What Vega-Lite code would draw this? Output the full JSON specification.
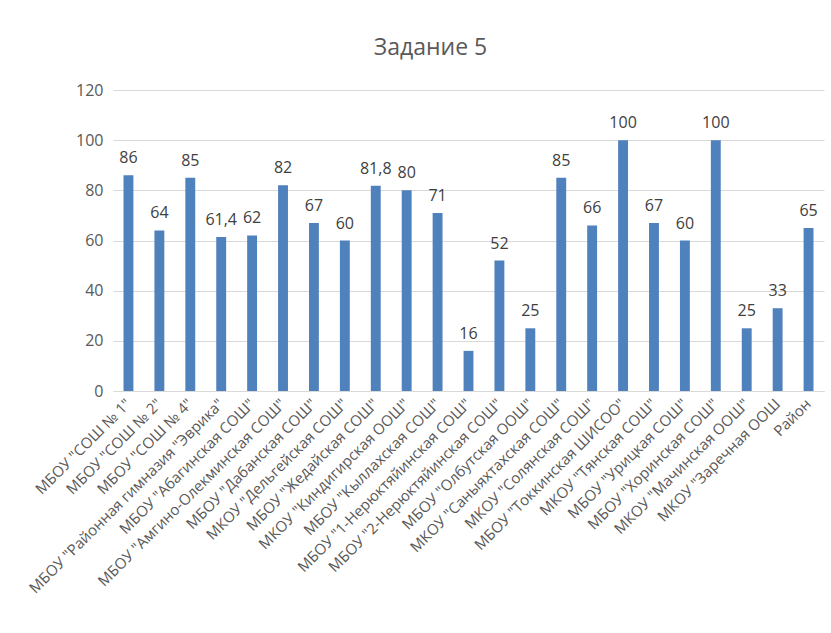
{
  "$schema": "https://vega.github.io/schema/vega-lite/v6.json",
  "autosize": "none",
  "width": 711,
  "height": 301,
  "padding": {"left": 113, "top": 90, "right": 7, "bottom": 242},
  "background": "white",
  "title": {"text": "Задание 5", "fontSize": 23, "font": "Open Sans", "fontWeight": "normal", "color": "#595959", "offset": 22, "dx": -38},
  "config": {
    "locale": {"number": {"decimal": ",", "thousands": " ", "grouping": [3], "currency": ["", ""]}},
    "view": {"stroke": null},
    "font": "Open Sans"
  },
  "data": {"values": [
    {"school": "МБОУ \"СОШ № 1\"", "value": 86},
    {"school": "МБОУ \"СОШ № 2\"", "value": 64},
    {"school": "МБОУ \"СОШ № 4\"", "value": 85},
    {"school": "МБОУ \"Районная гимназия \"Эврика\"", "value": 61.4},
    {"school": "МБОУ  \"Абагинская СОШ\"", "value": 62},
    {"school": "МБОУ \"Амгино-Олекминская СОШ\"", "value": 82},
    {"school": "МБОУ \"Дабанская СОШ\"", "value": 67},
    {"school": "МКОУ  \"Дельгейская  СОШ\"", "value": 60},
    {"school": "МБОУ \"Жедайская СОШ\"", "value": 81.8},
    {"school": "МКОУ \"Киндигирская ООШ\"", "value": 80},
    {"school": "МБОУ \"Кыллахская  СОШ\"", "value": 71},
    {"school": "МБОУ  \"1-Нерюктяйинская СОШ\"", "value": 16},
    {"school": "МБОУ \"2-Нерюктяйинская  СОШ\"", "value": 52},
    {"school": "МБОУ \"Олбутская  ООШ\"", "value": 25},
    {"school": "МКОУ \"Саныяхтахская СОШ\"", "value": 85},
    {"school": "МКОУ \"Солянская  СОШ\"", "value": 66},
    {"school": "МБОУ \"Токкинская  ШИСОО\"", "value": 100},
    {"school": "МКОУ \"Тянская  СОШ\"", "value": 67},
    {"school": "МБОУ \"Урицкая СОШ\"", "value": 60},
    {"school": "МБОУ \"Хоринская СОШ\"", "value": 100},
    {"school": "МКОУ \"Мачинская ООШ\"", "value": 25},
    {"school": "МКОУ \"Заречная ООШ", "value": 33},
    {"school": "Район", "value": 65}
  ]},
  "encoding": {
    "x": {
      "field": "school", "type": "nominal", "sort": null,
      "scale": {"paddingInner": 0.68, "paddingOuter": 0.34},
      "axis": {
        "title": null, "labelAngle": -45, "labelAlign": "right", "labelBaseline": "middle",
        "labelFontSize": 15, "labelColor": "#595959", "labelPadding": 10,
        "ticks": false, "domainColor": "#d9d9d9", "labelLimit": 400
      }
    },
    "y": {
      "field": "value", "type": "quantitative",
      "scale": {"domain": [0, 120]},
      "axis": {
        "title": null, "values": [0, 20, 40, 60, 80, 100, 120], "labelFontSize": 16,
        "labelColor": "#595959", "ticks": false, "domain": false, "gridColor": "#d9d9d9",
        "labelPadding": 10
      }
    }
  },
  "layer": [
    {"mark": {"type": "bar", "color": "#4f81bd"}},
    {"mark": {"type": "text", "baseline": "bottom", "dy": -9, "fontSize": 16, "color": "#404040"},
     "encoding": {"text": {"field": "value", "type": "quantitative", "format": ".3~f"}}}
  ]
}
